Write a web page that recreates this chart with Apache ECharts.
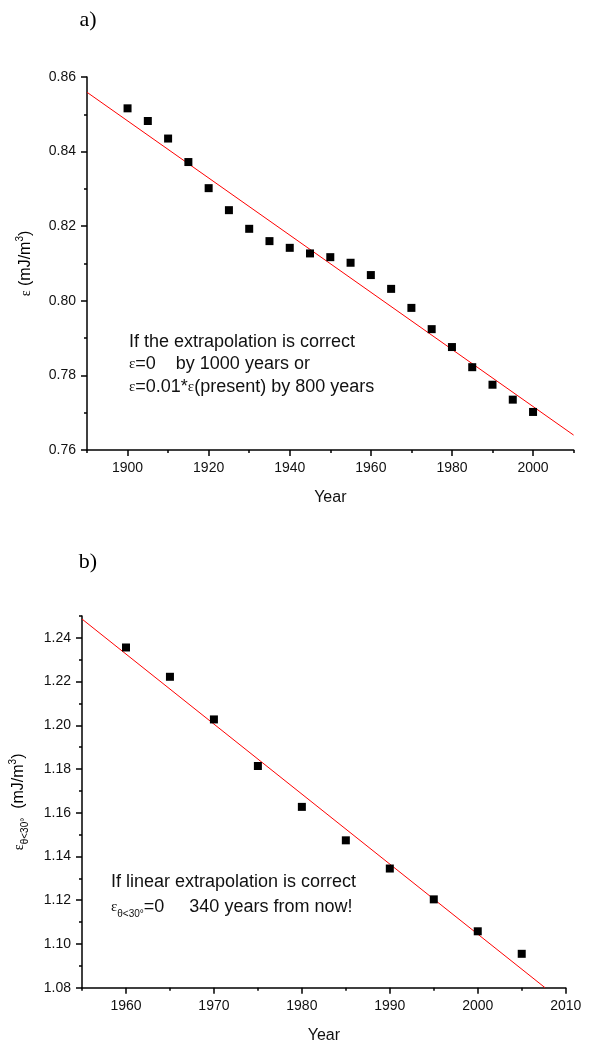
<!DOCTYPE html>
<html>
<head>
<meta charset="utf-8">
<script src="https://cdn.jsdelivr.net/npm/echarts@6/dist/echarts.min.js"></script>
<style>
  html, body { margin: 0; background: #fff; }
  #chart { width: 606px; height: 1046px; }
</style>
</head>
<body>
<div id="chart"></div>
<script>
// panel a) yearly values
const yearsA = [1900, 1905, 1910, 1915, 1920, 1925, 1930, 1935, 1940, 1945, 1950,
  1955, 1960, 1965, 1970, 1975, 1980, 1985, 1990, 1995, 2000]
const energyA = [0.8516, 0.8482, 0.8435, 0.8372, 0.8302, 0.8243, 0.8193, 0.8160, 0.8142, 0.8127, 0.8117,
  0.8102, 0.8069, 0.8032, 0.7981, 0.7924, 0.7876, 0.7822, 0.7775, 0.7735, 0.7702]
// fitted line end points
const fitYearsA = [1890, 2010]
const fitEnergyA = [0.8559, 0.7640]

// panel b)
const yearsB = [1960, 1965, 1970, 1975, 1980, 1985, 1990, 1995, 2000, 2005]
const energyB = [1.2356, 1.2222, 1.2027, 1.1814, 1.1627, 1.1474, 1.1345, 1.1204, 1.1058, 1.0955]
const fitYearsB = [1955, 2007.65]
const fitEnergyB = [1.2486, 1.08]

// tick labels
const xTicksA = [1900, 1920, 1940, 1960, 1980, 2000]
const yTicksA = [0.76, 0.78, 0.80, 0.82, 0.84, 0.86]
const xTicksB = [1960, 1970, 1980, 1990, 2000, 2010]
const yTicksB = [1.08, 1.10, 1.12, 1.14, 1.16, 1.18, 1.20, 1.22, 1.24]

const SANS = 'Liberation Sans, Arial, sans-serif'
const SERIF = 'Liberation Serif, Times New Roman, serif'
const INK = '#000'

const zip = (xs, ys) => xs.map((x, i) => [x, ys[i]])

// main axis: line, long ticks and labels at given values
const majorAxis = (grid, pos, min, max, ticks, fmt, extra) => Object.assign({
  type: 'value',
  gridIndex: grid,
  position: pos,
  min: min,
  max: max,
  axisLine: { show: true, lineStyle: { color: '#000', width: 1.5 } },
  axisTick: { show: true, inside: false, length: 6, customValues: ticks, lineStyle: { color: '#000', width: 1.5 } },
  axisLabel: { show: true, customValues: ticks, formatter: fmt, fontSize: 14, fontFamily: SANS, color: '#111', margin: 11 },
  splitLine: { show: false }
}, extra)

// second axis on the same edge, only short ticks
const minorAxis = (grid, pos, min, max, step) => ({
  type: 'value',
  gridIndex: grid,
  position: pos,
  offset: 0,
  min: min,
  max: max,
  interval: step,
  axisLine: { show: false },
  axisTick: { show: true, inside: false, length: 3, lineStyle: { color: '#000', width: 1.5 } },
  axisLabel: { show: false },
  splitLine: { show: false }
})

const nameStyle = {
  fontSize: 16, fontFamily: SANS, color: INK, lineHeight: 22,
  rich: {
    e: { fontSize: 14, fontFamily: SERIF, color: INK, lineHeight: 22 },
    s: { fontSize: 10, fontFamily: SANS, color: INK, verticalAlign: 'top', lineHeight: 12 },
    b: { fontSize: 10, fontFamily: SANS, color: INK, verticalAlign: 'bottom', lineHeight: 12 }
  }
}

const noteStyle = (text, x, y) => ({
  type: 'text',
  style: {
    text: text, x: x, y: y, verticalAlign: 'middle',
    fontSize: 18, fontFamily: SANS, fill: '#111', lineHeight: 24,
    rich: {
      e: { fontSize: 15, fontFamily: SERIF, fill: '#111', lineHeight: 24 },
      b: { fontSize: 10, fontFamily: SANS, fill: '#111', verticalAlign: 'bottom', lineHeight: 14 }
    }
  }
})

const chart = echarts.init(document.getElementById('chart'))

const option = {
  backgroundColor: '#fff',
  animation: false,
  grid: [
    { left: 87, top: 77, width: 486.6, height: 373 },
    { left: 80, top: 616, width: 485.7, height: 371.7 }
  ],
  xAxis: [
    majorAxis(0, 'bottom', 1890, 2010, xTicksA, v => String(v), {
      name: 'Year', nameLocation: 'middle', nameGap: 40,
      nameTextStyle: { fontSize: 16, fontFamily: SANS, color: '#111' }
    }),
    minorAxis(0, 'bottom', 1890, 2010, 10),
    majorAxis(1, 'bottom', 1955, 2010, xTicksB, v => String(v), {
      name: 'Year', nameLocation: 'middle', nameGap: 40,
      nameTextStyle: { fontSize: 16, fontFamily: SANS, color: '#111' }
    }),
    minorAxis(1, 'bottom', 1955, 2010, 5)
  ],
  yAxis: [
    majorAxis(0, 'left', 0.76, 0.86, yTicksA, v => v.toFixed(2), {
      name: '{e|ε} (mJ/m{s|3})', nameLocation: 'middle', nameGap: 50, nameRotate: 90,
      nameTextStyle: nameStyle
    }),
    minorAxis(0, 'left', 0.76, 0.86, 0.01),
    majorAxis(1, 'left', 1.08, 1.25, yTicksB, v => v.toFixed(2), {
      name: '{e|ε}{b|θ<30°}  (mJ/m{s|3})', nameLocation: 'middle', nameGap: 52, nameRotate: 90,
      nameTextStyle: nameStyle
    }),
    minorAxis(1, 'left', 1.08, 1.25, 0.01)
  ],
  graphic: [
    { type: 'text', style: { text: 'a)', x: 88, y: 20, align: 'center', verticalAlign: 'middle', fontSize: 22, fontFamily: SERIF, fill: INK } },
    { type: 'text', style: { text: 'b)', x: 88, y: 562, align: 'center', verticalAlign: 'middle', fontSize: 22, fontFamily: SERIF, fill: INK } },
    noteStyle('If the extrapolation is correct', 129, 342),
    noteStyle('{e|ε}=0    by 1000 years or', 129, 364),
    noteStyle('{e|ε}=0.01*{e|ε}(present) by 800 years', 129, 387),
    noteStyle('If linear extrapolation is correct', 111, 882),
    noteStyle('{e|ε}{b|θ<30°}=0     340 years from now!', 111, 907)
  ],
  series: [
    {
      type: 'line', xAxisIndex: 0, yAxisIndex: 0,
      data: zip(fitYearsA, fitEnergyA),
      symbol: 'none', lineStyle: { color: '#ff0000', width: 1 }, z: 2
    },
    {
      type: 'scatter', xAxisIndex: 0, yAxisIndex: 0,
      data: zip(yearsA, energyA),
      symbol: 'rect', symbolSize: 8, itemStyle: { color: '#000', opacity: 1 }, z: 3
    },
    {
      type: 'line', xAxisIndex: 2, yAxisIndex: 2,
      data: zip(fitYearsB, fitEnergyB),
      symbol: 'none', lineStyle: { color: '#ff0000', width: 1 }, z: 2
    },
    {
      type: 'scatter', xAxisIndex: 2, yAxisIndex: 2,
      data: zip(yearsB, energyB),
      symbol: 'rect', symbolSize: 8, itemStyle: { color: '#000', opacity: 1 }, z: 3
    }
  ]
}

chart.setOption(option)
</script>
</body>
</html>
